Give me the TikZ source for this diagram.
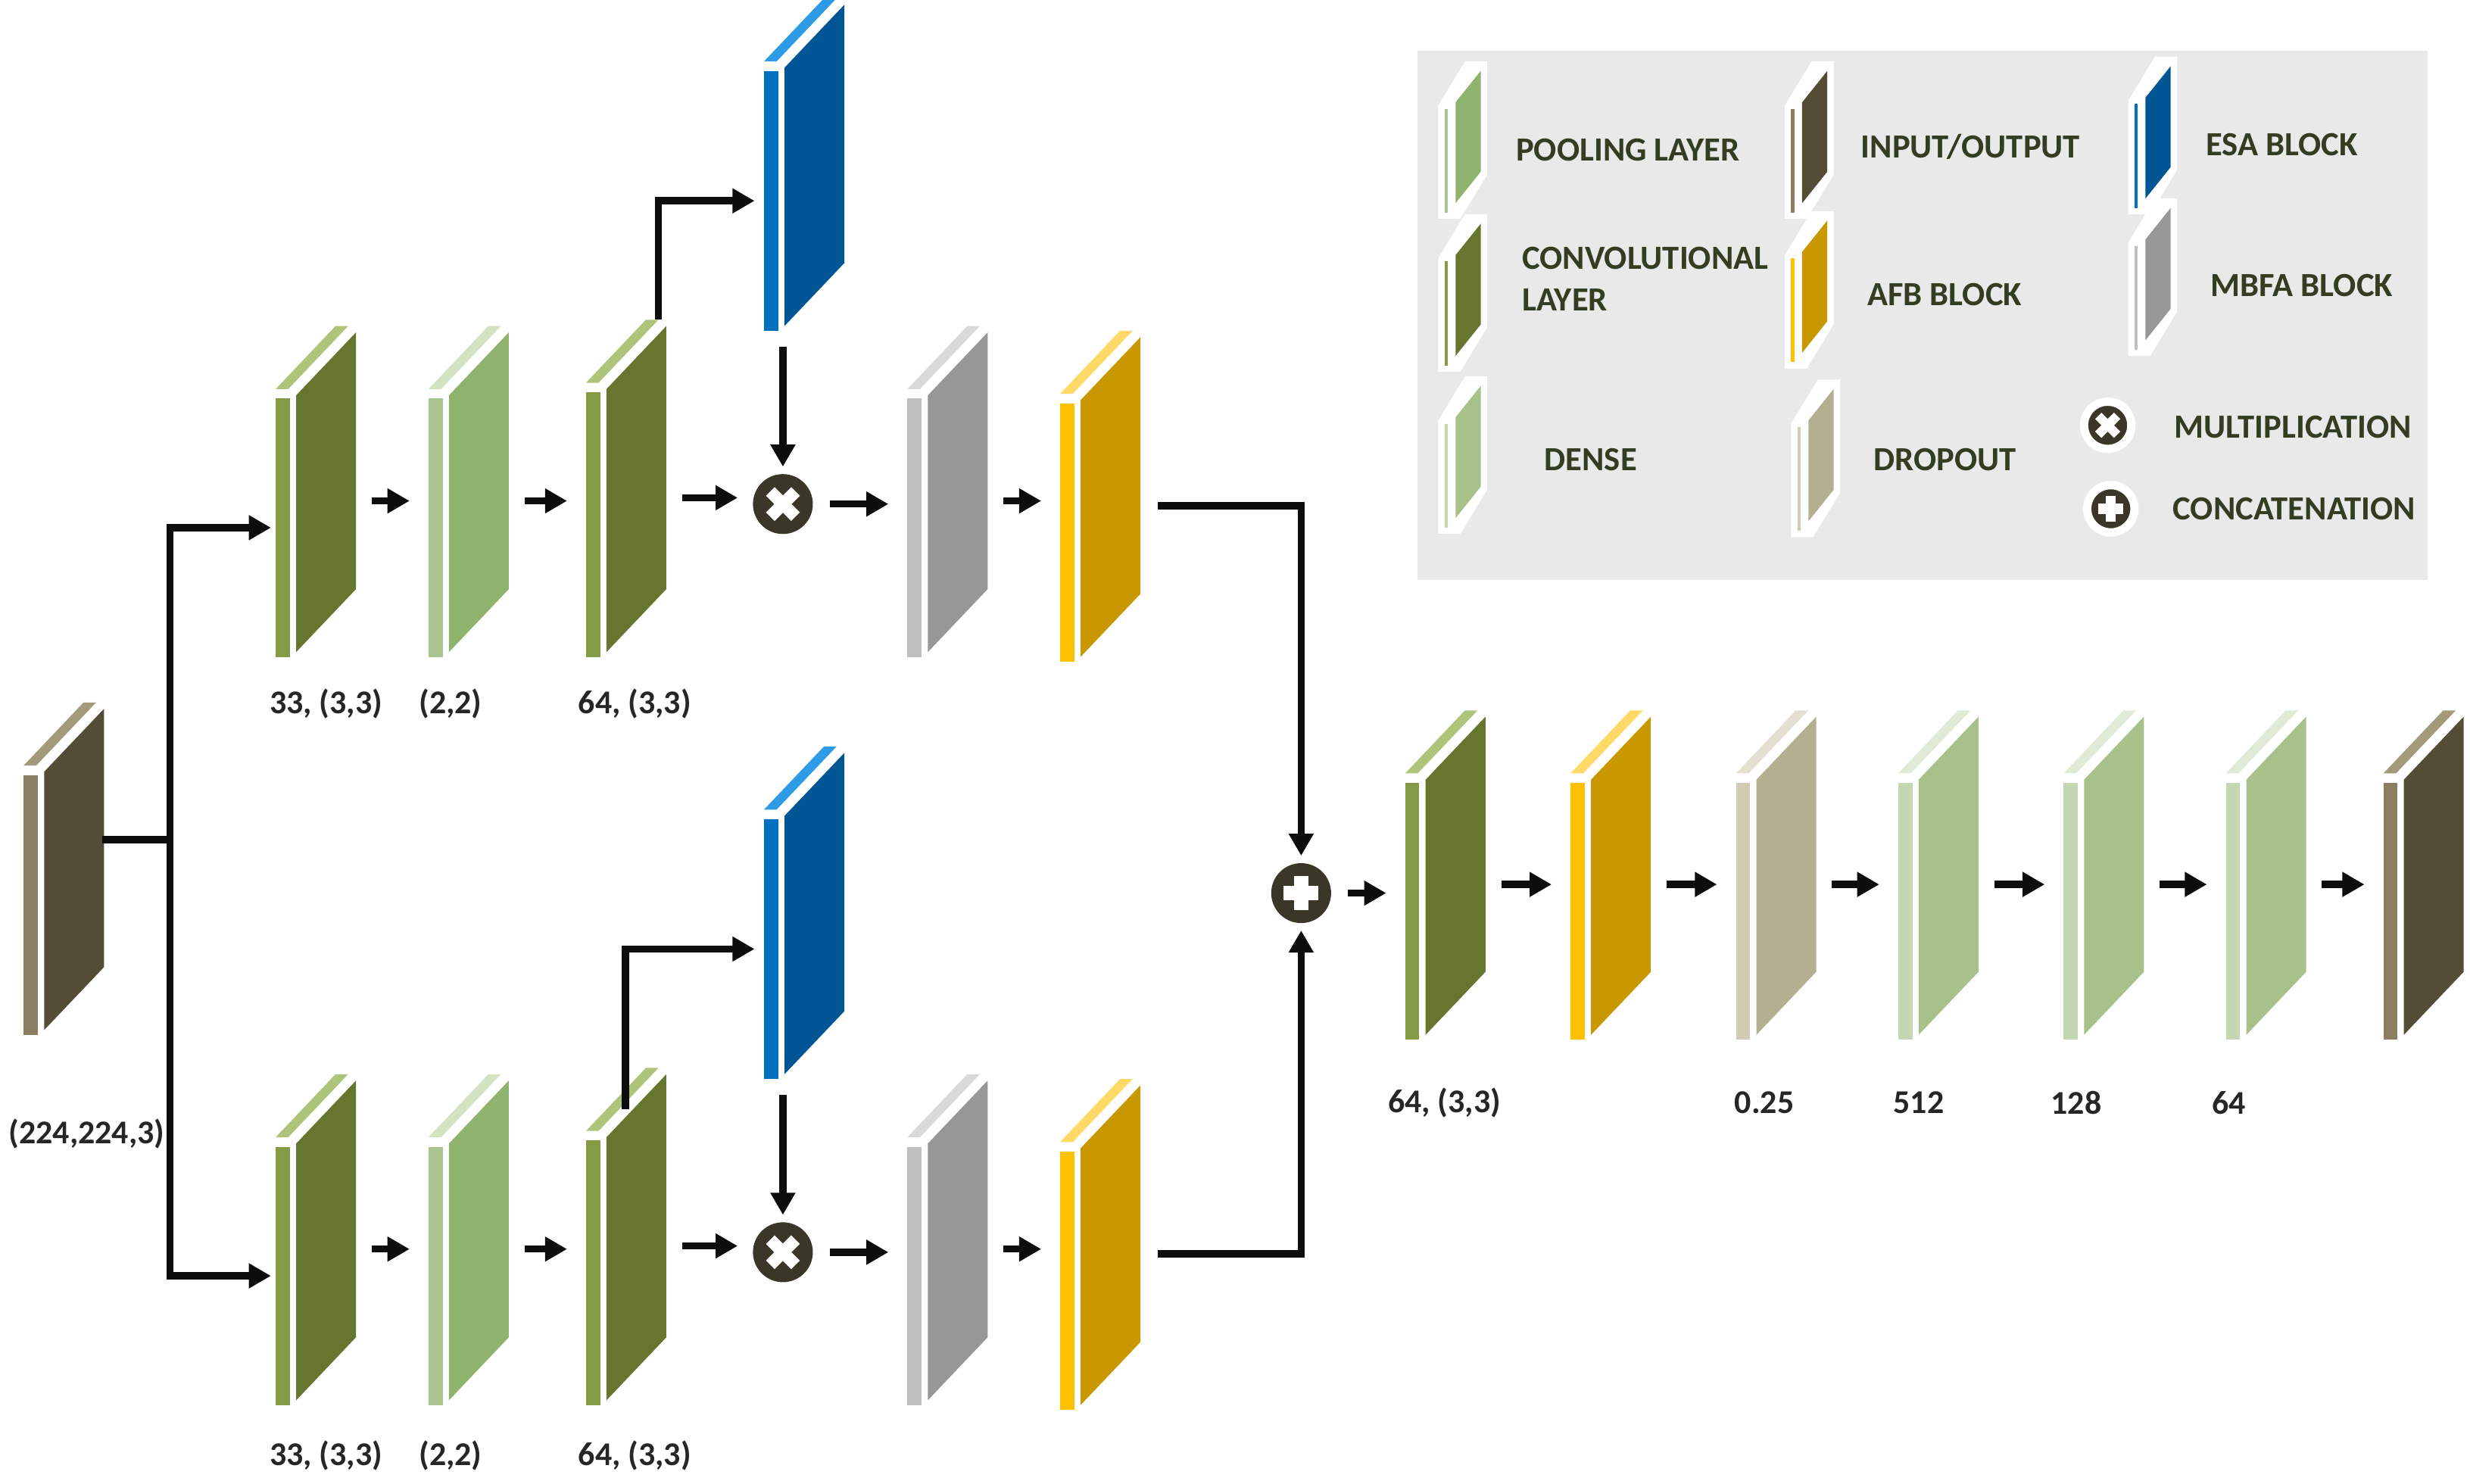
\documentclass[tikz,border=0pt]{standalone}
\usepackage{fontspec}
\setmainfont{Carlito}
\usetikzlibrary{positioning,arrows.meta}
% layer colours: S = front strip, M = main face, T = top edge
\definecolor{convS}{HTML}{859A44}\definecolor{convM}{HTML}{66762F}\definecolor{convT}{HTML}{AEC47A}
\definecolor{poolS}{HTML}{A9C48E}\definecolor{poolM}{HTML}{8FB26C}\definecolor{poolT}{HTML}{D2E2C3}
\definecolor{denseS}{HTML}{C5D6B2}\definecolor{denseM}{HTML}{A8C08A}\definecolor{denseT}{HTML}{E0EAD6}
\definecolor{ioS}{HTML}{8A7F60}\definecolor{ioM}{HTML}{544C37}\definecolor{ioT}{HTML}{A39A7A}
\definecolor{esaS}{HTML}{0070C0}\definecolor{esaM}{HTML}{005694}\definecolor{esaT}{HTML}{2E9BE6}
\definecolor{mbfaS}{HTML}{BFBFBF}\definecolor{mbfaM}{HTML}{979797}\definecolor{mbfaT}{HTML}{D9D9D9}
\definecolor{afbS}{HTML}{FFC000}\definecolor{afbM}{HTML}{C99700}\definecolor{afbT}{HTML}{FFD966}
\definecolor{dropS}{HTML}{CFCBB5}\definecolor{dropM}{HTML}{B5AF91}\definecolor{dropT}{HTML}{E3E0D2}
\definecolor{opfill}{HTML}{3B3728}
\definecolor{legbg}{HTML}{E9E9E9}
\definecolor{legtxt}{HTML}{333D22}
\tikzset{
	arr/.style={line width=1.3pt, draw=black!95, -{Triangle[length=0.14cm,width=0.15cm]}},
	link/.style={line width=1.3pt, draw=black!95},
	opnode/.style={circle, fill=opfill, minimum size=0.38cm, inner sep=0pt},
	oplegend/.style={opnode, minimum size=0.3cm, draw=white, line width=1.5pt},
	lbl/.style={font=\bfseries\fontsize{6}{7}\selectfont, text=black!85},
	legend/.style={font=\bfseries\fontsize{6.1}{7.6}\selectfont, text=legtxt, anchor=west, align=left}
}
% #1 name, #2 x, #3 bottom y, #4 height, #5 colour prefix
\newcommand{\slab}[5]{%
	\fill[#5S] (#2,#3) rectangle (#2+9,#3-#4);
	\fill[#5M] (#2+13,#3-3) -- (#2+13,#3-#4-2) -- (#2+51,#3-#4-42) -- (#2+51,#3-43) -- cycle;
	\fill[#5T] (#2,#3-#4-6) -- ++(8,0) -- ++(38,-40) -- ++(-8,0) -- cycle;
	\coordinate (#1-w) at (#2-3,#3-#4/2);
	\coordinate (#1-e) at (#2+51,#3-#4/2-17);
	\coordinate (#1-t) at (#2+46,#3-#4-46);
	\coordinate (#1-n) at (#2+25,#3-#4-20);
	\coordinate (#1-s) at (#2+12,#3+10);}
% legend icon: #1 x, #2 bottom y, #3 colour prefix
\newcommand{\legslab}[3]{%
	\fill[white] (#1-4,#2+4) -- (#1-4,#2-68) -- (#1+13,#2-96) -- (#1+27,#2-96) -- (#1+27,#2-24) -- (#1+10,#2+4) -- cycle;
	\fill[#3S] (#1,#2) rectangle (#1+2,#2-66);
	\fill[#3M] (#1+7,#2-6) -- (#1+7,#2-70) -- (#1+23,#2-90) -- (#1+23,#2-26) -- cycle;}
% white signs on operation circles: #1 node, #2 half size, #3 stroke
\newcommand{\timessign}[3]{%
	\draw[white, line width=#3] ([shift={(-#2,-#2)}]#1.center) -- ([shift={(#2,#2)}]#1.center)
		([shift={(-#2,#2)}]#1.center) -- ([shift={(#2,-#2)}]#1.center);}
\newcommand{\plussign}[3]{%
	\draw[white, line width=#3] ([shift={(-#2,0)}]#1.center) -- ([shift={(#2,0)}]#1.center)
		([shift={(0,-#2)}]#1.center) -- ([shift={(0,#2)}]#1.center);}
\newcommand{\step}[2]{\draw[arr] ([xshift=0.1cm]#1) -- ([xshift=-0.09cm]#2 |- #1);}

\begin{document}
\begin{tikzpicture}[x=0.01cm, y=-0.01cm]
	\useasboundingbox (0,0) rectangle (1568,942);

	% legend
	\fill[legbg] (900,32) rectangle (1541,368);
	\legslab{917}{135}{pool} \legslab{917}{232}{conv} \legslab{917}{335}{dense}
	\legslab{1137}{135}{io} \legslab{1137}{230}{afb} \legslab{1141}{337}{drop}
	\legslab{1355}{132}{esa} \legslab{1355}{222}{mbfa}
	\node[legend] (lpool) at (950,95) {POOLING LAYER};
	\node[legend] (lconv) at (954,177) {CONVOLUTIONAL\\LAYER};
	\node[legend] (ldense) at (968,292) {DENSE};
	\node[legend] (lio) at (1169,93) {INPUT/OUTPUT};
	\node[legend] (lafb) at (1173,187) {AFB BLOCK};
	\node[legend] (ldrop) at (1177,292) {DROPOUT};
	\node[legend] (lesa) at (1388,92) {ESA BLOCK};
	\node[legend] (lmbfa) at (1391,181) {MBFA BLOCK};
	\node[oplegend] (lmul) at (1338,270) {}; \timessign{lmul}{6}{1.6pt}
	\node[legend] (lmultxt) at (1368,271) {MULTIPLICATION};
	\node[oplegend] (lcat) at (1340,323) {}; \plussign{lcat}{8}{1.8pt}
	\node[legend] (lcattxt) at (1367,323) {CONCATENATION};

	% input
	\slab{inp}{15}{657}{165}{io}
	\node[lbl] (inpl) at (55,720) {(224,224,3)};

	% upper branch
	\slab{c1a}{175}{417}{164}{conv}
	\slab{p1a}{272}{417}{164}{pool}
	\slab{c2a}{372}{417}{168}{conv}
	\slab{esaa}{485}{210}{165}{esa}
	\node[opnode] (mula) at (497,320) {}; \timessign{mula}{8}{2.2pt}
	\slab{mbfaa}{576}{417}{164}{mbfa}
	\slab{afba}{673}{420}{164}{afb}
	\node[lbl] (l1a) at (207,447) {33, (3,3)};
	\node[lbl] (l2a) at (286,447) {(2,2)};
	\node[lbl] (l3a) at (403,447) {64, (3,3)};

	% lower branch
	\slab{c1b}{175}{892}{164}{conv}
	\slab{p1b}{272}{892}{164}{pool}
	\slab{c2b}{372}{892}{168}{conv}
	\slab{esab}{485}{685}{165}{esa}
	\node[opnode] (mulb) at (497,795) {}; \timessign{mulb}{8}{2.2pt}
	\slab{mbfab}{576}{892}{164}{mbfa}
	\slab{afbb}{673}{895}{164}{afb}
	\node[lbl] (l1b) at (207,924) {33, (3,3)};
	\node[lbl] (l2b) at (286,924) {(2,2)};
	\node[lbl] (l3b) at (403,924) {64, (3,3)};

	% merged head
	\node[opnode] (cat) at (826,567) {}; \plussign{cat}{11}{2.6pt}
	\slab{c3}{892}{660}{163}{conv}
	\slab{afbc}{997}{660}{163}{afb}
	\slab{drop}{1102}{660}{163}{drop}
	\slab{d1}{1205}{660}{163}{dense}
	\slab{d2}{1310}{660}{163}{dense}
	\slab{d3}{1413}{660}{163}{dense}
	\slab{outp}{1513}{660}{163}{io}
	\node[lbl] (l4) at (917,700) {64, (3,3)};
	\node[lbl] (l5) at (1120,700) {0.25};
	\node[lbl] (l6) at (1218,700) {512};
	\node[lbl] (l7) at (1318,700) {128};
	\node[lbl] (l8) at (1415,700) {64};

	% connectors
	\coordinate (split) at (108,533);
	\coordinate (inp-o) at (65,533);
	\draw[link] (inp-o) -- (split);
	\draw[arr] (split) |- (c1a-w);
	\draw[arr] (split) |- (c1b-w);
	\step{c1a-e}{p1a-w} \step{p1a-e}{c2a-w} \step{c2a-e}{mula.west}
	\step{mula.east}{mbfaa-w} \step{mbfaa-e}{afba-w}
	\step{c1b-e}{p1b-w} \step{p1b-e}{c2b-w} \step{c2b-e}{mulb.west}
	\step{mulb.east}{mbfab-w} \step{mbfab-e}{afbb-w}
	\draw[arr] (c2a-t) |- ([xshift=-0.03cm]esaa-w);
	\draw[arr] (c2b-n) |- ([xshift=-0.03cm]esab-w);
	\draw[arr] (esaa-s) -- ([yshift=0.04cm]mula.north);
	\draw[arr] (esab-s) -- ([yshift=0.04cm]mulb.north);
	\draw[arr] ([xshift=0.11cm]afba-e) -| ([yshift=0.04cm]cat.north);
	\draw[arr] ([xshift=0.11cm]afbb-e) -| ([yshift=-0.04cm]cat.south);
	\step{cat.east}{c3-w} \step{c3-e}{afbc-w} \step{afbc-e}{drop-w}
	\step{drop-e}{d1-w} \step{d1-e}{d2-w} \step{d2-e}{d3-w} \step{d3-e}{outp-w}
\end{tikzpicture}
\end{document}
